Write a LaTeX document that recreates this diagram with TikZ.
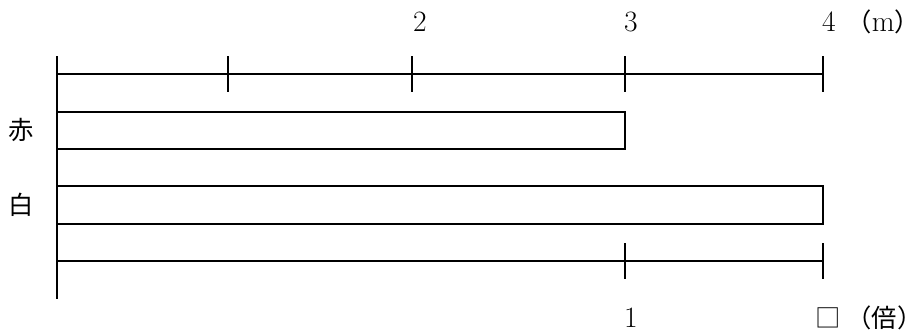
\documentclass[tikz,border=0pt]{standalone}
\usepackage{fontspec}
\newfontfamily\jpfont{Noto Sans CJK JP}
\usetikzlibrary{positioning}
\newcommand\opar{\makebox[0.5em][r]{（}}
\newcommand\cpar{\makebox[0.5em][l]{）}}
\tikzset{
  axis/.style={line width=1.1pt, draw=black},
  tick/.style={line width=1.1pt, draw=black},
  bar/.style={line width=1.1pt, draw=black, fill=white},
  num/.style={font=\fontsize{21}{24}\selectfont, inner sep=0pt},
  jp/.style={font=\fontsize{18}{22}\selectfont\jpfont, inner sep=0pt},
}

\begin{document}
\begin{tikzpicture}[x=0.025cm, y=-0.025cm]
\useasboundingbox (0,0) rectangle (912,332);

% left edge and scale lines
\coordinate (top) at (57,56);
\coordinate (bot) at (57,299);
\draw[axis] (top) -- (bot);
\draw[axis] (57,74) -- (823,74);
\draw[axis] (57,261) -- (823,261);

% ticks on the metre scale
\foreach \x in {228,412,625,823}
  \draw[tick] (\x,56) -- (\x,92);
% ticks on the times scale
\foreach \x in {625,823}
  \draw[tick] (\x,243) -- (\x,279);

% bars
\draw[bar] (57,112) rectangle (625,149);
\draw[bar] (57,186) rectangle (823,224);

% labels
\node[num] (m2) at (420,22) {2};
\node[num] (m3) at (631,22) {3};
\node[num] (m4) at (829,22) {4};
\node[jp, anchor=west] (unitm) at (859,22) {\opar{\fontsize{21}{24}\selectfont\rmfamily m}\cpar};

\node[jp] (aka) at (21,130) {赤};
\node[jp] (shiro) at (21,205) {白};

\node[num] (t1) at (631,318) {1};
\node[jp] (tq) at (828,318) {□};
\node[jp, anchor=west] (unitb) at (859,318) {\opar 倍\cpar};
\end{tikzpicture}
\end{document}
